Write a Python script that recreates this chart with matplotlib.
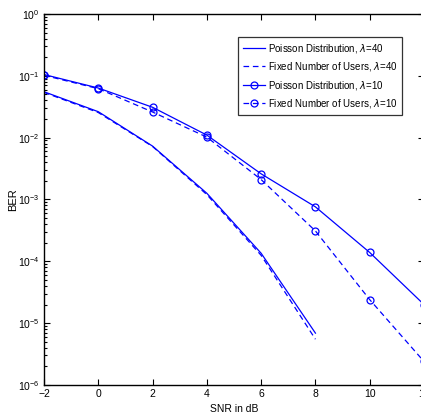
import matplotlib
matplotlib.use("Agg")
import matplotlib.pyplot as plt
from matplotlib.ticker import LogLocator, NullFormatter

plt.rcParams["font.family"] = ["Liberation Sans Narrow", "Liberation Sans", "DejaVu Sans"]
plt.rcParams["mathtext.fontset"] = "custom"
plt.rcParams["mathtext.rm"] = "Liberation Sans"

# SNR sweep (dB)
snr_40 = [-2, 0, 2, 4, 6, 8]
snr_10 = [-2, 0, 2, 4, 6, 8, 10, 12]

# BER, lambda = 40
ber_poisson_40 = [0.0553, 0.0263, 0.0073, 1.26e-3, 1.35e-4, 6.9e-6]
ber_fixed_40 = [0.054, 0.0255, 0.0072, 1.2e-3, 1.25e-4, 5.5e-6]

# BER, lambda = 10
ber_poisson_10 = [0.105, 0.0635, 0.031, 0.011, 2.6e-3, 7.6e-4, 1.39e-4, 2.0e-5]
ber_fixed_10 = [0.102, 0.062, 0.026, 0.0102, 2.1e-3, 3.1e-4, 2.4e-5, 2.4e-6]

labels = [
    "Poisson Distribution, $\\lambda$=40",
    "Fixed Number of Users, $\\lambda$=40",
    "Poisson Distribution, $\\lambda$=10",
    "Fixed Number of Users, $\\lambda$=10",
]

W, H = 421, 419
fig = plt.figure(figsize=(W / 100, H / 100), dpi=100)
ax = fig.add_axes([44 / W, (H - 385) / H, 380 / W, 371 / H])

blue = (0, 0, 1)
dash = (0, (4.5, 3))
mk = dict(marker="o", markersize=5, markerfacecolor="none", markeredgecolor=blue, markeredgewidth=0.9)

ax.semilogy(snr_40, ber_poisson_40, color=blue, lw=0.9, label=labels[0])
ax.semilogy(snr_40, ber_fixed_40, color=blue, lw=0.9, ls=dash, label=labels[1])
ax.semilogy(snr_10, ber_poisson_10, color=blue, lw=0.9, label=labels[2], **mk)
ax.semilogy(snr_10, ber_fixed_10, color=blue, lw=0.9, ls=dash, label=labels[3], **mk)

ax.set_xlim(-2, 12)
ax.set_ylim(1e-6, 1)
ax.set_xticks([-2, 0, 2, 4, 6, 8, 10, 12])
ax.set_xticklabels(["\u22122", "0", "2", "4", "6", "8", "10", "12"])
ax.yaxis.set_major_locator(LogLocator(base=10, numticks=10))
ax.yaxis.set_minor_locator(LogLocator(base=10, subs=range(2, 10), numticks=10))
ax.yaxis.set_minor_formatter(NullFormatter())

ax.tick_params(which="both", direction="in", top=True, right=True, labelsize=7.5, width=0.8)
ax.tick_params(which="major", length=4, pad=3)
ax.tick_params(which="minor", length=2)
for s in ax.spines.values():
    s.set_linewidth(1.0)

ax.set_xlabel("SNR in dB", fontsize=7.5)
ax.xaxis.set_label_coords(0.5, -0.05)
ax.set_ylabel("BER", fontsize=8)
ax.yaxis.set_label_coords(-0.068, 0.5)

leg = ax.legend(loc="upper right", bbox_to_anchor=((402 - 44) / 380, (385 - 37) / 371),
                fontsize=7, frameon=True, fancybox=False, edgecolor="black",
                handlelength=2.2, handletextpad=0.3, borderpad=0.5, labelspacing=0.55,
                borderaxespad=0)
leg.get_frame().set_linewidth(0.9)

fig.savefig("out.png", dpi=100)
